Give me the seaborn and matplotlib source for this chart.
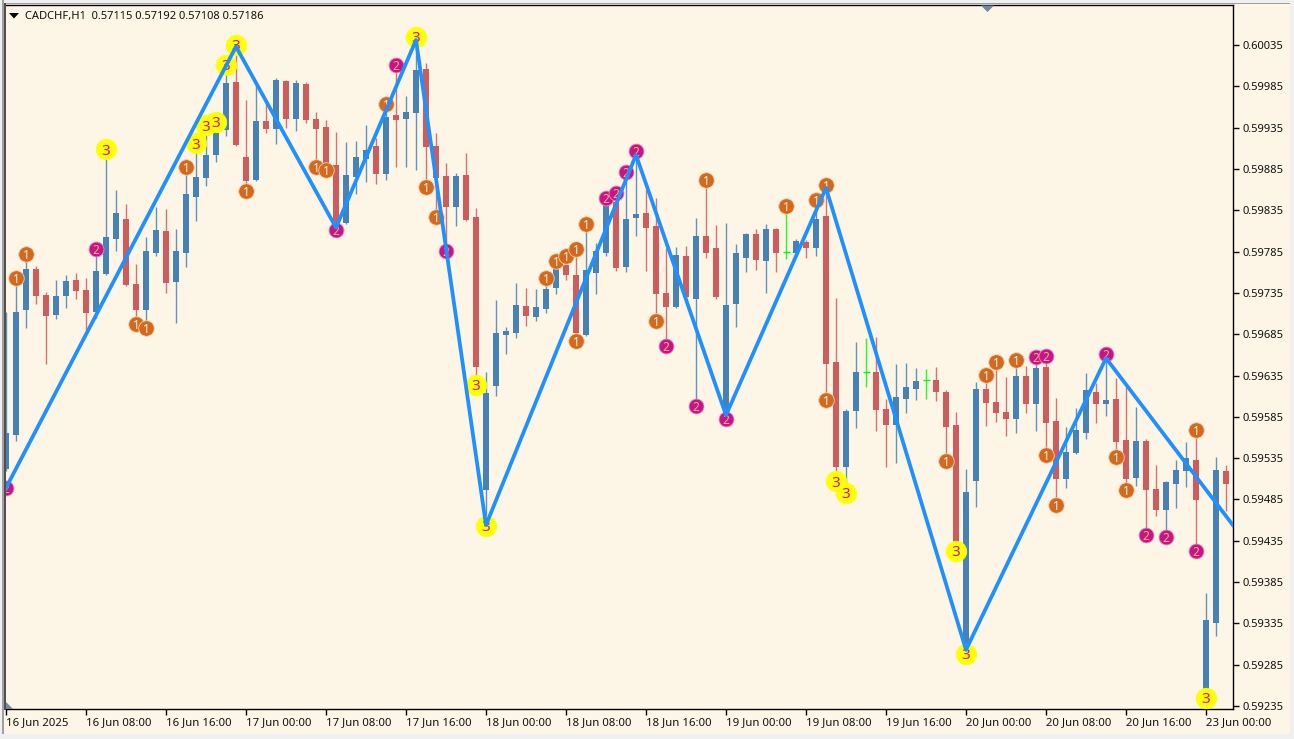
import numpy as np
import pandas as pd
import matplotlib
matplotlib.use("Agg")
import matplotlib.pyplot as plt
from matplotlib.patches import Rectangle, Polygon
import seaborn as sns

# Prices are stored in points (1 point = 0.00001)
opens = [59522,59563,59714,59764,59732,59708,59731,59751,59739,59712,59758,59800,59824,59746,59714,59783,59810,59748,59783,59851,
         59874,59902,59932,59990,59900,59872,59943,59933,59991,59945,59988,59945,59936,59890,59820,59875,59897,59913,59879,59950,
         59945,59953,60006,59913,59876,59839,59878,59827,59496,59622,59684,59686,59719,59706,59716,59741,59769,59757,59684,59759,
         59783,59845,59766,59826,59832,59816,59735,59718,59780,59728,59804,59789,59585,59722,59777,59806,59774,59812,59785,59783,
         59797,59789,59828,59651,59524,59592,59639,59639,59594,59575,59607,59619,59630,59630,59615,59575,59309,59507,59619,59603,
         59591,59582,59634,59600,59645,59580,59510,59541,59565,59615,59600,59607,59557,59511,59556,59498,59472,59504,59519,59533,
         59254,59336,59519]
highs = [59712,59745,59775,59767,59736,59751,59757,59759,59753,59780,59900,59860,59843,59770,59803,59839,59837,59812,59880,59908,
         59929,59938,60001,60029,59968,59989,59965,59995,59993,59993,59990,59954,59944,59930,59918,59919,59938,59922,59956,60001,
         59973,60041,60013,59929,59892,59880,59904,59838,59639,59726,59694,59747,59741,59740,59751,59772,59771,59783,59811,59795,
         59847,59851,59875,59900,59860,59850,59789,59791,59792,59826,59863,59817,59820,59794,59807,59812,59818,59814,59832,59800,
         59799,59839,59860,59729,59594,59676,59680,59682,59607,59649,59650,59644,59643,59645,59618,59591,59522,59627,59627,59642,
         59633,59645,59647,59654,59654,59608,59573,59596,59638,59626,59654,59632,59621,59597,59558,59527,59507,59533,59555,59563,
         59372,59536,59527]
lows = [59520,59556,59693,59722,59649,59703,59717,59728,59690,59705,59757,59786,59743,59702,59693,59780,59735,59699,59766,59822,
        59864,59893,59925,59913,59867,59870,59929,59915,59935,59931,59941,59892,59884,59818,59818,59855,59869,59867,59872,59887,
        59887,59884,59869,59833,59795,59816,59822,59633,59464,59610,59661,59680,59695,59701,59711,59734,59751,59682,59683,59734,
        59780,59762,59760,59804,59762,59706,59678,59717,59729,59605,59777,59728,59584,59694,59760,59763,59735,59760,59776,59782,
        59777,59780,59614,59518,59505,59571,59621,59568,59524,59529,59590,59605,59607,59604,59539,59427,59303,59476,59574,59579,
        59562,59565,59590,59568,59545,59484,59499,59540,59558,59578,59586,59542,59505,59501,59448,59465,59446,59475,59500,59430,
        59251,59320,59471]
closes = [59566,59712,59764,59731,59707,59731,59749,59737,59711,59762,59803,59832,59745,59714,59786,59811,59747,59786,59855,59875,
          59902,59932,59989,59914,59870,59943,59933,59993,59945,59989,59944,59933,59890,59820,59878,59900,59908,59879,59948,59944,
          59954,60005,59912,59874,59839,59876,59823,59645,59614,59686,59689,59720,59707,59718,59740,59766,59757,59686,59763,59786,
          59843,59765,59824,59830,59814,59734,59718,59781,59730,59804,59783,59730,59720,59783,59806,59775,59812,59783,59785,59798,
          59789,59824,59649,59524,59592,59639,59639,59593,59575,59609,59621,59628,59630,59615,59573,59430,59494,59619,59602,59590,
          59582,59634,59600,59644,59578,59510,59542,59569,59617,59600,59605,59555,59510,59556,59496,59472,59506,59521,59535,59484,
          59339,59521,59504]

tick_labels = ["16 Jun 2025","16 Jun 08:00","16 Jun 16:00","17 Jun 00:00","17 Jun 08:00","17 Jun 16:00",
               "18 Jun 00:00","18 Jun 08:00","18 Jun 16:00","19 Jun 00:00","19 Jun 08:00","19 Jun 16:00",
               "20 Jun 00:00","20 Jun 08:00","20 Jun 16:00","23 Jun 00:00"]
price_ticks = [0.60035,0.59985,0.59935,0.59885,0.59835,0.59785,0.59735,0.59685,0.59635,
               0.59585,0.59535,0.59485,0.59435,0.59385,0.59335,0.59285,0.59235]

zz_idx = [0,23,33,41,48,63,72,82,96,110,123]
zz_price = [59499,60033,59814,60041,59454,59902,59587,59862,59303,59656,59449]

m1_idx = [1,2,13,14,18,24,31,32,38,42,43,57,54,55,56,57,58,65,70,78,81,82,82,94,98,99,101,104,105,111,112,119]
m1_price = [59753,59782,59697,59693,59887,59858,59887,59884,59964,59863,59827,59677,59753,59774,59780,59788,59818,59701,
            59872,59840,59847,59866,59605,59532,59636,59651,59654,59539,59478,59536,59496,59569]
m2_idx = [0,9,33,39,44,60,61,62,63,66,69,72,103,104,110,114,116,119]
m2_price = [59499,59788,59811,60011,59786,59850,59856,59881,59907,59671,59598,59582,59657,59659,59661,59442,59440,59423]
m3_idx = [10,19,20,21,22,23,41,47,48,83,84,95,96,120]
m3_price = [59909,59916,59938,59942,60011,60035,60045,59624,59453,59507,59493,59423,59298,59245]

BG = "#FDF5E6"
BLUE = "#4682B4"
RED = "#CD5C5C"
LIME = "#00FF00"
ZZ = "#1E90FF"

sns.set_theme(style="ticks")
plt.rcParams["font.family"] = ["Noto Sans", "DejaVu Sans"]

W, H = 1294, 739
fig = plt.figure(figsize=(W/100, H/100), dpi=100, facecolor=BG)
L, R, T, B = 6, 1233, 5, 709
ax = fig.add_axes([L/W, 1-B/H, (R-L)/W, (B-T)/H], facecolor=BG)

idx = np.arange(len(opens))
o, h, l, c = [np.array(a)/1e5 for a in (opens, highs, lows, closes)]
cols = np.where(c > o, BLUE, np.where(c < o, RED, LIME))

ax.vlines(idx, l, h, colors=cols, lw=1.0, alpha=0.85, zorder=2)
body_bottom = np.minimum(o, c)
body_height = np.abs(c-o)
solid = body_height > 0
ax.bar(idx[solid], body_height[solid], bottom=body_bottom[solid], width=0.68,
       color=cols[solid], linewidth=0, zorder=3)
doji = ~solid
ax.hlines(c[doji], idx[doji]-0.35, idx[doji]+0.35, colors=LIME, lw=1.0, zorder=3)

groups = [
    (m1_idx, m1_price, "#D2691E", "#F6CFA8", 125, "1", "#FFF4E0", 8.5),
    (m2_idx, m2_price, "#C71585", "#E58AC0", 115, "2", "#F4B183", 8.5),
    (m3_idx, m3_price, "#FFFF00", "#FFFF00", 215, "3", "#D6149A", 11),
]
for mi, mp, fc, ec, s, txt, tc, fs in groups:
    df = pd.DataFrame({"i": mi, "p": np.array(mp)/1e5})
    sns.scatterplot(data=df, x="i", y="p", s=s, color=fc, edgecolor=ec, linewidth=0.6,
                    zorder=4, legend=False, ax=ax)
    for a, b in zip(df["i"], df["p"]):
        ax.text(a, b, txt, color=tc, fontsize=fs, fontweight="bold", ha="center", va="center_baseline",
                zorder=5, clip_on=True)

zz = pd.DataFrame({"i": zz_idx, "p": np.array(zz_price)/1e5})
sns.lineplot(data=zz, x="i", y="p", color=ZZ, lw=2.7, sort=False, estimator=None, zorder=6, ax=ax, legend=False)

ax.set_xlim(0, (R-L)/10)
ax.set_ylim(0.592314, 0.600834)
ax.set_xlabel("")
ax.set_ylabel("")

ax.set_xticks(idx[::8][:len(tick_labels)])
ax.set_xticklabels(tick_labels, ha="left", fontsize=8.2, color="#111111")
ax.yaxis.tick_right()
ax.set_yticks(price_ticks)
ax.set_yticklabels([f"{v:.5f}" for v in price_ticks], fontsize=8.0, color="#111111")
ax.tick_params(axis="x", length=4, width=1, color="black", pad=1.5, direction="out")
ax.tick_params(axis="y", length=4, width=1, color="black", pad=2.5, direction="out")
for s in ax.spines.values():
    s.set_visible(False)
for s in ("bottom", "right", "top"):
    ax.spines[s].set_visible(True)
    ax.spines[s].set_linewidth(1.0)
    ax.spines[s].set_color("black")

def px_rect(x0, y0, x1, y1, color, z=10):
    fig.add_artist(Rectangle((x0/W, 1-y1/H), (x1-x0)/W, (y1-y0)/H, transform=fig.transFigure,
                             facecolor=color, edgecolor="none", zorder=z))

def px_poly(pts, color):
    fig.add_artist(Polygon([(x/W, 1-y/H) for x, y in pts], closed=True, transform=fig.transFigure,
                           facecolor=color, edgecolor="none", zorder=11))

# window frame
px_rect(0, 0, W, 3, "#F0F0F0")
px_rect(0, 3, W, 4, "#A0A0A0")
px_rect(0, 0, 2, H, "#F0F0F0")
px_rect(2, 0, 4, H, "#A0A0A0")
px_rect(4, 3, 6, B+1, "#505050")
px_rect(0, H-5, W, H, "#F0F0F0")
px_rect(W-4, 0, W, H, "#F0F0F0")

# scroll / shift handles
px_poly([(981, 5.5), (994, 5.5), (987.5, 12)], "#6F8AA0")
px_poly([(6, 702), (13, 709), (6, 709)], "#6F8AA0")
# header
px_poly([(9, 13), (19, 13), (14, 18.5)], "black")
fig.text(25/W, 1-16/H, "CADCHF,H1  0.57115 0.57192 0.57108 0.57186", fontsize=8.0, color="#111111",
         ha="left", va="center")

fig.savefig("out.png", dpi=100, facecolor=BG)
